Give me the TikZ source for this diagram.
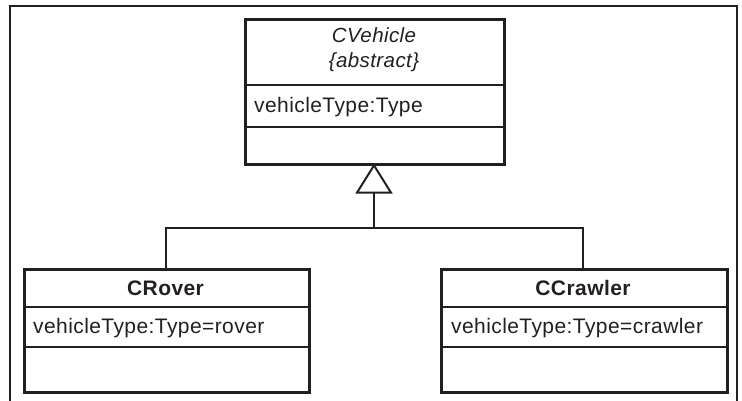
\documentclass[tikz,border=0pt]{standalone}
\usepackage{fontspec}
\setmainfont[LetterSpace=2]{Liberation Sans}
\usetikzlibrary{arrows.meta}
\definecolor{ink}{HTML}{231F20}
\begin{document}
\begin{tikzpicture}[x=1pt,y=-1pt,
  every node/.style={font=\fontsize{21}{25}\selectfont, text=ink, inner sep=0pt},
  classbox/.style={draw=ink, line width=2.6pt, anchor=north west, minimum width=#1, minimum height=123pt},
  divider/.style={draw=ink, line width=1.6pt},
  link/.style={draw=ink, line width=2.2pt},
  attr/.style={anchor=base west},
  title/.style={anchor=base}]
\useasboundingbox (0,0) rectangle (742,400);
% frame
\draw[ink, line width=1.5pt] (10,402) -- (10,6) -- (737,6) -- (737,402);
% CVehicle
\node[classbox=259pt, minimum height=145pt] (veh) at (244,18) {};
\draw[divider] (244,85) -- (503,85);
\draw[divider] (244,127) -- (503,127);
\node[title, font=\fontsize{20.5}{25}\itshape] (vehname) at (374,42) {CVehicle};
\node[title, font=\fontsize{20.5}{25}\itshape] (vehabs) at (374,67) {\{abstract\}};
\node[attr] (vehattr) at (254,112) {vehicleType:Type};
% CRover
\node[classbox=285pt] (rover) at (23,268) {};
\draw[divider] (23,307) -- (308,307);
\draw[divider] (23,347) -- (308,347);
\node[title, font=\fontsize{21}{25}\bfseries] (rovername) at (165.5,295) {CRover};
\node[attr] (roverattr) at (33,333) {vehicleType:Type=rover};
% CCrawler
\node[classbox=286pt] (crawl) at (440,268) {};
\draw[divider] (440,307) -- (726,307);
\draw[divider] (440,347) -- (726,347);
\node[title, font=\fontsize{21}{25}\bfseries] (crawlname) at (583,295) {CCrawler};
\node[attr] (crawlattr) at (451,333) {vehicleType:Type=crawler};
% generalization
\coordinate (junc) at (374,228);
\draw[link] (166,268) |- (junc) -| (583,268);
\draw[link, -{Triangle[open, length=30pt, width=37pt, line width=2pt]}] (junc) -- (374,163.5);
\end{tikzpicture}
\end{document}
